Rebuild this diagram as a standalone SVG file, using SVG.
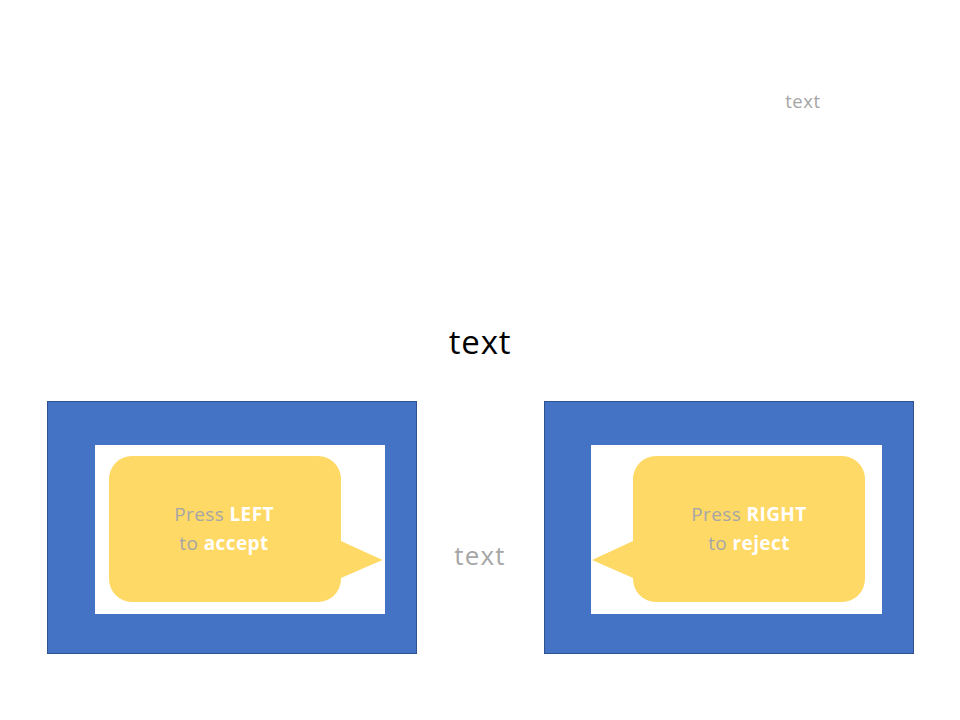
<svg xmlns="http://www.w3.org/2000/svg" width="960" height="720" viewBox="0 0 960 720">
<style>
.outer{fill:#4472C4;stroke:#2F528F;stroke-width:1}
.inner{fill:#FFFFFF}
.bubble{fill:#FFD966}
.t{font-family:"Open Sans","Liberation Sans",sans-serif;text-anchor:middle}
.g{fill:#A6A6A6}
.w{fill:#FFFFFF;font-weight:bold}
</style>
<rect width="960" height="720" fill="#FFFFFF"/>
<text class="t g" x="803" y="108" font-size="18.5" letter-spacing="0.6">text</text>
<text class="t" x="480" y="354" font-size="33" letter-spacing="0.8" fill="#000000">text</text>
<text class="t g" x="480" y="565" font-size="26" letter-spacing="1.2">text</text>
<g id="left-screen">
<rect class="outer" x="47.5" y="401.5" width="369" height="252"/>
<rect class="inner" x="95" y="445" width="290" height="169"/>
<path class="bubble" d="M132 456 H318 A23 23 0 0 1 341 479 V541 L382.5 560 L341 578 V579 A23 23 0 0 1 318 602 H132 A23 23 0 0 1 109 579 V479 A23 23 0 0 1 132 456 Z"/>
<text class="t" x="224" y="521" font-size="19" letter-spacing="0.4"><tspan class="g">Press </tspan><tspan class="w">LEFT</tspan></text>
<text class="t" x="224" y="550" font-size="19" letter-spacing="0.4"><tspan class="g">to </tspan><tspan class="w">accept</tspan></text>
</g>
<g id="right-screen">
<rect class="outer" x="544.5" y="401.5" width="369" height="252"/>
<rect class="inner" x="591" y="445" width="291" height="169"/>
<path class="bubble" d="M656 456 H842 A23 23 0 0 1 865 479 V579 A23 23 0 0 1 842 602 H656 A23 23 0 0 1 633 579 V578 L592 560 L633 541 V479 A23 23 0 0 1 656 456 Z"/>
<text class="t" x="749" y="521" font-size="19" letter-spacing="0.4"><tspan class="g">Press </tspan><tspan class="w">RIGHT</tspan></text>
<text class="t" x="749" y="550" font-size="19" letter-spacing="0.4"><tspan class="g">to </tspan><tspan class="w">reject</tspan></text>
</g>
</svg>
